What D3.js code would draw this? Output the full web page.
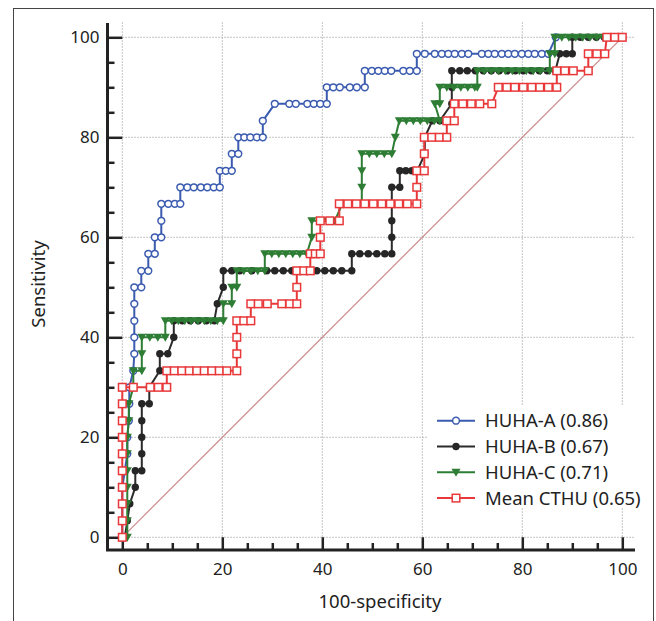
<!DOCTYPE html>
<html>
<head>
<meta charset="utf-8">
<script src="https://cdn.jsdelivr.net/npm/d3@7"></script>
<style>
  html, body { margin: 0; padding: 0; background: #fff; }
  svg { display: block; font-family: "Noto Sans", "Open Sans", sans-serif; }
</style>
</head>
<body>
<svg id="chart" width="656" height="621"></svg>
<script>
// ROC points, [100-specificity, sensitivity]
const huhaA = [
  [0,0],[0,3.3],[0,6.7],[0,10],[0.5,13.3],[1,16.7],[1,20],[1.3,23.3],[1.4,26.7],[1.4,30],
  [2.2,33.3],[2.4,36.7],[2.4,40],[2.4,43.3],[2.4,46.7],[2.4,50],[3.8,50],[3.8,53.3],[5.2,53.3],
  [5.2,56.7],[6.5,56.7],[6.5,60],[7.8,60],[7.8,63.3],[7.8,66.7],[9.2,66.7],[10.5,66.7],[11.6,66.7],
  [11.6,70],[13,70],[14.3,70],[15.7,70],[17,70],[18.3,70],[19.5,70],[19.5,73.3],[20.7,73.3],
  [21.9,73.3],[21.9,76.7],[23.2,76.7],[23.2,80],[24.4,80],[25.6,80],[26.9,80],[28.1,80],
  [28.1,83.3],[30.5,86.7],[33.4,86.7],[34.7,86.7],[37,86.7],[38.3,86.7],[39.6,86.7],[40.9,86.7],
  [40.9,90],[42.2,90],[43.5,90],[45.5,90],[46.9,90],[48.5,90],[48.5,93.3],[49.9,93.3],[51.2,93.3],
  [52.5,93.3],[53.8,93.3],[56.2,93.3],[57.5,93.3],[58.9,93.3],[58.9,96.7],[60.5,96.7],[62.5,96.7],
  [63.9,96.7],[65.2,96.7],[66.5,96.7],[67.9,96.7],[69.2,96.7],[71.9,96.7],[73.2,96.7],[74.5,96.7],
  [75.9,96.7],[77.2,96.7],[78.5,96.7],[79.9,96.7],[81.2,96.7],[82.5,96.7],[83.9,96.7],[85.2,96.7],
  [86.7,100]
];
const huhaB = [
  [0.5,0],[1,3.3],[1.5,6.7],[2.6,10],[2.6,13.3],[3.9,13.3],[3.9,16.7],[3.9,20],[3.9,23.3],[3.9,26.7],
  [5.4,26.7],[5.4,30],[7.5,33.3],[7.5,36.7],[9.1,36.7],[10.3,40],[10.3,43.3],[12,43.3],[13.6,43.3],
  [15.2,43.3],[16.8,43.3],[18.4,43.3],[19,46.7],[20.2,50],[20.2,53.3],[21.9,53.3],[23.5,53.3],
  [25.9,53.3],[28.9,53.3],[30.5,53.3],[32.2,53.3],[33.9,53.3],[35.5,53.3],[37.2,53.3],[38.9,53.3],
  [40.5,53.3],[42.2,53.3],[43.9,53.3],[45.9,53.3],[45.9,56.7],[47.5,56.7],[49.2,56.7],[50.9,56.7],
  [52.5,56.7],[53.9,56.7],[53.9,60],[53.9,63.3],[53.9,66.7],[53.9,70],[55.5,70],[55.5,73.3],
  [56.7,73.3],[57.9,73.3],[59,73.3],[60.5,76.7],[60.5,80],[62,83.3],[63.5,83.3],[65.9,86.7],
  [65.9,90],[65.9,93.3],[67.5,93.3],[69,93.3],[70.6,93.3],[72.2,93.3],[73.8,93.3],[75.4,93.3],
  [77,93.3],[78.6,93.3],[80.2,93.3],[81.8,93.3],[83.4,93.3],[85,93.3],[86.6,93.3],[87.5,96.7],
  [88.8,96.7],[90,96.7],[90,100],[91.6,100],[93.2,100],[94.8,100],[96.4,100]
];
const huhaC = [
  [1,0],[1,3.3],[1,6.7],[1,10],[1,13.3],[1,16.7],[1,20],[1.3,23.3],[1.3,26.7],[2.2,30],[2.2,33.3],
  [3.9,33.3],[3.9,36.7],[3.9,40],[5.5,40],[7.1,40],[8.6,40],[8.6,43.3],[9.9,43.3],[11.2,43.3],
  [12.5,43.3],[13.8,43.3],[15.1,43.3],[16.4,43.3],[17.7,43.3],[19,43.3],[20.2,43.3],[20.2,46.7],
  [21.9,46.7],[21.9,50],[22.9,50],[22.9,53.3],[24.3,53.3],[25.7,53.3],[27.1,53.3],[28.5,53.3],
  [28.5,56.7],[29.9,56.7],[31.3,56.7],[32.7,56.7],[34.1,56.7],[35.5,56.7],[36.9,56.7],[37.9,60],
  [37.9,63.3],[39.5,63.3],[41,63.3],[42.5,63.3],[44,66.7],[46,66.7],[47.9,66.7],[47.9,70],
  [47.9,73.3],[47.9,76.7],[49.4,76.7],[50.9,76.7],[52.4,76.7],[53.9,76.7],[54.6,80],[55.4,83.3],
  [56.8,83.3],[58.2,83.3],[59.6,83.3],[61,83.3],[62.4,83.3],[63.5,83.3],[62.5,86.7],[63.5,86.7],
  [63.5,90],[64.9,90],[66.3,90],[67.7,90],[69.1,90],[70.5,90],[71,90],[71,93.3],[72.4,93.3],
  [73.8,93.3],[75.2,93.3],[76.6,93.3],[78,93.3],[79.4,93.3],[80.8,93.3],[82.2,93.3],[83.6,93.3],
  [85.5,93.3],[85.5,96.7],[86.5,96.7],[86.5,100],[87.9,100],[89.3,100],[90.7,100],[92.1,100],
  [93.5,100],[94.9,100],[96.3,100]
];
const meanCTHU = [
  [0,0],[0,3.3],[0,6.7],[0,10],[0,13.3],[0,16.7],[0,20],[0,23.3],[0,26.7],[0,30],[2.2,30],[5.6,30],
  [7.2,30],[8.9,30],[8.9,33.3],[10.4,33.3],[11.9,33.3],[13.4,33.3],[14.9,33.3],[16.4,33.3],[17.9,33.3],
  [19.4,33.3],[20.9,33.3],[22.9,33.3],[22.9,36.7],[22.9,40],[22.9,43.3],[24.3,43.3],[25.7,43.3],
  [25.7,46.7],[27.2,46.7],[29,46.7],[31.9,46.7],[33.5,46.7],[34.9,46.7],[34.9,50],[34.9,53.3],
  [36.3,53.3],[37.6,53.3],[37.6,56.7],[38.6,56.7],[39.6,56.7],[39.6,60],[39.6,63.3],[41.5,63.3],
  [43.4,63.3],[43.4,66.7],[45.1,66.7],[46.8,66.7],[48.5,66.7],[50.2,66.7],[51.9,66.7],[53.6,66.7],
  [55.3,66.7],[57,66.7],[58.9,66.7],[58.9,70],[58.9,73.3],[60.4,73.3],[60.4,76.7],[60.4,80],
  [61.9,80],[63.4,80],[64.9,80],[64.9,83.3],[66.4,83.3],[66.4,86.7],[68.1,86.7],[69.8,86.7],
  [71.5,86.7],[73.9,86.7],[75.2,90],[76.9,90],[78.5,90],[80.2,90],[81.9,90],[83.5,90],[85.2,90],
  [86.9,90],[86.9,93.3],[88.5,93.3],[90.2,93.3],[93.2,93.3],[93.2,96.7],[94.9,96.7],[96.5,96.7],
  [96.9,100],[98.5,100],[100,100]
];
const seriesNames = ["HUHA-A (0.86)", "HUHA-B (0.67)", "HUHA-C (0.71)", "Mean CTHU (0.65)"];
const majorTicks = [0, 20, 40, 60, 80, 100];
const minorTicks = [5, 10, 15, 25, 30, 35, 45, 50, 55, 65, 70, 75, 85, 90, 95];

const svg = d3.select("#chart");

// Outer frame
svg.append("rect")
   .attr("x", 13.5).attr("y", 8.5)
   .attr("width", 640).attr("height", 630)
   .attr("fill", "none").attr("stroke", "#444").attr("stroke-width", 1);

const x = d3.scaleLinear().domain([0, 100]).range([122.3, 622.3]);
const y = d3.scaleLinear().domain([0, 100]).range([537.3, 37.3]);
const axisX = 107.5, axisY = 550;

// Dotted grid
const grid = svg.append("g").attr("stroke", "#b0b0b0").attr("stroke-width", 1)
                .attr("stroke-dasharray", "1.5,1.5");
grid.selectAll(".gx").data(majorTicks).join("line")
    .attr("x1", d => x(d)).attr("x2", d => x(d))
    .attr("y1", y(103)).attr("y2", y(0));
grid.selectAll(".gy").data(majorTicks).join("line")
    .attr("x1", x(0)).attr("x2", x(102.5))
    .attr("y1", d => y(d)).attr("y2", d => y(d));

// Chance diagonal
svg.append("line")
   .attr("x1", x(0)).attr("y1", y(0)).attr("x2", x(100)).attr("y2", y(100))
   .attr("stroke", "#c98b8b").attr("stroke-width", 1.2);

// Axes: ticks point inward, towards the plot area
function styleAxis(g) {
    g.select(".domain").remove();
    g.selectAll(".tick line").attr("stroke", "#222").attr("stroke-width", 2.5);
    g.selectAll(".tick text").attr("fill", "#222").attr("font-size", 17)
     .attr("font-family", "'Noto Sans', sans-serif");
}
svg.append("g").attr("transform", `translate(${axisX},0)`)
   .call(d3.axisLeft(y).tickValues(minorTicks).tickSize(-7).tickFormat(""))
   .call(styleAxis);
svg.append("g").attr("transform", `translate(${axisX},0)`)
   .call(d3.axisLeft(y).tickValues(majorTicks).tickSize(-(x(0) - axisX)).tickPadding(8))
   .call(styleAxis);
svg.append("g").attr("transform", `translate(0,${axisY})`)
   .call(d3.axisBottom(x).tickValues(minorTicks).tickSize(-7).tickFormat(""))
   .call(styleAxis);
svg.append("g").attr("transform", `translate(0,${axisY})`)
   .call(d3.axisBottom(x).tickValues(majorTicks).tickSize(-(axisY - y(0))).tickPadding(13))
   .call(styleAxis);

// Axis lines
svg.append("path")
   .attr("d", `M${axisX},23V${axisY}H635`)
   .attr("fill", "none").attr("stroke", "#222").attr("stroke-width", 3);

// Axis titles
svg.append("text")
   .attr("transform", `translate(45,284) rotate(-90)`)
   .attr("text-anchor", "middle").attr("font-size", 18.5).attr("fill", "#222")
   .text("Sensitivity");
svg.append("text")
   .attr("x", 380).attr("y", 608)
   .attr("text-anchor", "middle").attr("font-size", 18.5).attr("fill", "#222")
   .text("100-specificity");

// Series styles
const styles = [
    { data: huhaA,    line: "#3a5bb0", shape: "circle",   fill: "#fff",    stroke: "#3a5bb0" },
    { data: huhaB,    line: "#2b2b2b", shape: "dot",      fill: "#262626", stroke: "#262626" },
    { data: huhaC,    line: "#2e7d34", shape: "triangle", fill: "#2e7d34", stroke: "#2e7d34" },
    { data: meanCTHU, line: "#e8383a", shape: "square",   fill: "#fff",    stroke: "#e8383a" }
];

function drawMarker(sel, s) {
    if (s.shape === "circle") {
        sel.append("circle").attr("r", 3.4)
           .attr("fill", s.fill).attr("stroke", s.stroke).attr("stroke-width", 1.5);
    } else if (s.shape === "dot") {
        sel.append("circle").attr("r", 3.7).attr("fill", s.fill);
    } else if (s.shape === "triangle") {
        sel.append("path").attr("d", "M-4.5,-3.5L4.5,-3.5L0,4.5Z").attr("fill", s.fill);
    } else {
        sel.append("rect").attr("x", -3.8).attr("y", -3.8).attr("width", 7.6).attr("height", 7.6)
           .attr("fill", s.fill).attr("stroke", s.stroke).attr("stroke-width", 1.5);
    }
}

const line = d3.line().x(d => x(d[0])).y(d => y(d[1]));

styles.forEach(function(s) {
    const g = svg.append("g");
    g.append("path").datum(s.data)
     .attr("d", line).attr("fill", "none")
     .attr("stroke", s.line).attr("stroke-width", 2);
    g.selectAll("g.pt").data(s.data).join("g")
     .attr("class", "pt")
     .attr("transform", d => `translate(${x(d[0])},${y(d[1])})`)
     .each(function() { drawMarker(d3.select(this), s); });
});

// Legend
const legend = svg.append("g");
legend.append("rect")
      .attr("x", 428).attr("y", 405).attr("width", 224).attr("height", 103)
      .attr("fill", "#fff");
styles.forEach(function(s, i) {
    const row = legend.append("g").attr("transform", `translate(0,${420.7 + i * 25.8})`);
    row.append("line").attr("x1", 437).attr("x2", 475)
       .attr("stroke", s.line).attr("stroke-width", 2);
    drawMarker(row.append("g").attr("transform", "translate(456,0)"), s);
    row.append("text").attr("x", 485).attr("dy", "0.36em")
       .attr("font-size", 18.5).attr("fill", "#222")
       .text(seriesNames[i]);
});
</script>
</body>
</html>
